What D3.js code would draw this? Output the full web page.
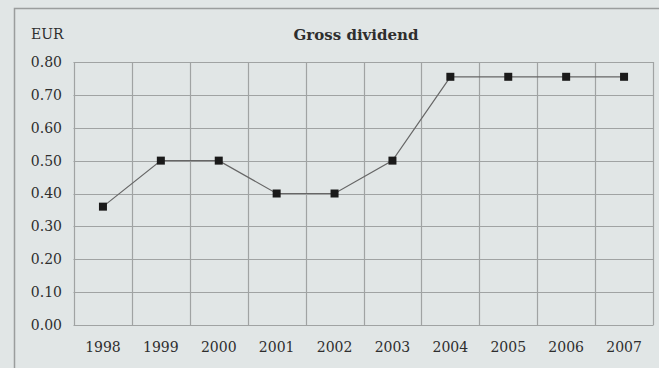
<!DOCTYPE html>
<html>
<head>
<meta charset="utf-8">
<script src="https://cdn.jsdelivr.net/npm/d3@7"></script>
<style>
  body { margin: 0; background: #e1e6e6; }
  text { font-family: "DejaVu Serif", serif; fill: #2e2e2e; }
</style>
</head>
<body>
<div id="chart"></div>
<script>
const years = ["1998", "1999", "2000", "2001", "2002", "2003", "2004", "2005", "2006", "2007"];
const dividend = [0.36, 0.50, 0.50, 0.40, 0.40, 0.50, 0.755, 0.755, 0.755, 0.755];
const yTicks = [0, 0.1, 0.2, 0.3, 0.4, 0.5, 0.6, 0.7, 0.8];

var width = 659,
    height = 368;
const margin = { top: 62, right: 6, bottom: 43, left: 74 };

const svg = d3.select("#chart")
  .append("svg")
    .attr("width", width)
    .attr("height", height);

// outer frame (only top and left edges show in the crop)
svg.append("rect")
  .attr("x", 14.5).attr("y", 8.5)
  .attr("width", 700).attr("height", 400)
  .attr("fill", "#e1e6e6")
  .attr("stroke", "#9a9d9d")
  .attr("stroke-width", 1.5);

const x = d3.scaleBand()
  .domain(years)
  .range([margin.left, width - margin.right]);

const y = d3.scaleLinear()
  .domain([0, 0.8])
  .range([height - margin.bottom, margin.top]);

const grid = svg.append("g").attr("stroke", "#a0a3a3").attr("stroke-width", 1.2);

grid.selectAll("line.h")
  .data(yTicks)
  .join("line")
    .attr("class", "h")
    .attr("x1", margin.left - 0.5)
    .attr("x2", width - margin.right + 0.5)
    .attr("y1", d => Math.round(y(d)) + 0.5)
    .attr("y2", d => Math.round(y(d)) + 0.5);

grid.selectAll("line.v")
  .data(years.concat(["end"]))
  .join("line")
    .attr("class", "v")
    .attr("x1", (d, i) => Math.round(i < years.length ? x(d) : x.range()[1]) + 0.5)
    .attr("x2", (d, i) => Math.round(i < years.length ? x(d) : x.range()[1]) + 0.5)
    .attr("y1", y(0.8))
    .attr("y2", y(0));

// y tick labels
svg.append("g")
  .selectAll("text")
  .data(yTicks)
  .join("text")
    .attr("x", margin.left - 12)
    .attr("y", d => y(d))
    .attr("dy", "0.35em")
    .attr("text-anchor", "end")
    .attr("font-size", 14)
    .text(d => d3.format(".2f")(d));

// x tick labels
svg.append("g")
  .selectAll("text")
  .data(years)
  .join("text")
    .attr("x", d => x(d) + x.bandwidth() / 2)
    .attr("y", y(0) + 27)
    .attr("text-anchor", "middle")
    .attr("font-size", 14)
    .text(d => d);

svg.append("text")
  .attr("x", 31).attr("y", 39)
  .attr("font-size", 14)
  .text("EUR");

svg.append("text")
  .attr("x", 356).attr("y", 40)
  .attr("text-anchor", "middle")
  .attr("font-size", 15)
  .attr("font-weight", "bold")
  .text("Gross dividend");

const line = d3.line()
  .x((d, i) => x(years[i]) + x.bandwidth() / 2)
  .y(d => y(d));

svg.append("path")
  .datum(dividend)
  .attr("fill", "none")
  .attr("stroke", "#666")
  .attr("stroke-width", 1.2)
  .attr("d", line);

svg.append("g")
  .selectAll("rect")
  .data(dividend)
  .join("rect")
    .attr("x", (d, i) => x(years[i]) + x.bandwidth() / 2 - 4)
    .attr("y", d => y(d) - 4)
    .attr("width", 8)
    .attr("height", 8)
    .attr("fill", "#1a1a1a");
</script>
</body>
</html>
